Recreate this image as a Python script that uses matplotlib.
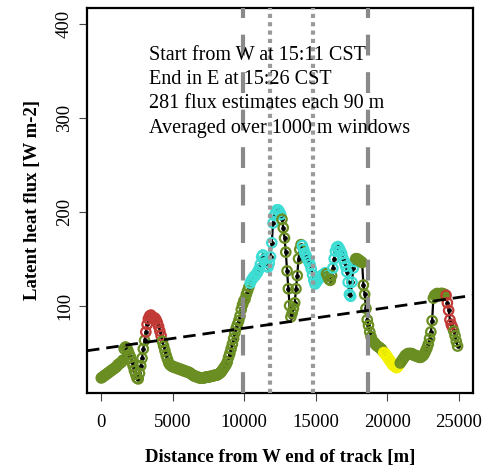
import numpy as np
import matplotlib
matplotlib.use("Agg")
from matplotlib import pyplot as plt

plt.rcParams['font.family'] = ['Liberation Serif', 'DejaVu Serif']

# flux estimates along the track, one every 89 m
spacing = 89
flux = [23, 24, 25, 26, 27, 28, 29, 30, 31, 32,
        33, 34, 35, 37, 38, 39, 40, 42, 54, 56,
        55, 52, 48, 45, 40, 36, 31, 27, 23, 22,
        28, 36, 44, 54, 63, 72, 80, 86, 89, 90,
        88, 86, 87, 85, 82, 78, 73, 68, 62, 57,
        52, 47, 43, 39, 37, 36, 35, 35, 34, 34,
        33, 33, 32, 32, 31, 31, 30, 30, 29, 29,
        28, 27, 26, 25, 25, 24, 24, 23, 23, 23,
        23, 23, 24, 24, 24, 24, 25, 25, 25, 26,
        26, 26, 27, 28, 29, 31, 33, 35, 37, 40,
        45, 49, 54, 59, 65, 71, 76, 80, 84, 89,
        96, 101, 105, 107, 112, 116, 120, 124, 127, 129,
        131, 132, 134, 136, 139, 144, 152, 154, 149, 146,
        142, 141, 145, 152, 167, 188, 196, 199, 202, 202,
        200, 197, 192, 183, 172, 157, 137, 118, 100, 88,
        92, 97, 103, 118, 132, 150, 160, 165, 164, 160,
        156, 153, 150, 147, 144, 139, 133, 127, 123, 125,
        127, 129, 130, 132, 133, 134, 135, 134, 131, 128,
        127, 132, 140, 150, 158, 162, 163, 161, 158, 155,
        150, 146, 142, 136, 125, 112, 110, 125, 140, 147,
        150, 150, 149, 148, 147, 146, 122, 112, 97, 85,
        79, 72, 67, 63, 61, 60, 58, 57, 56, 55,
        54, 52, 50, 49, 47, 45, 43, 41, 39, 37,
        36, 35, 34, 35, 37, 39, 41, 43, 45, 47,
        48, 49, 49, 49, 49, 48, 47, 47, 46, 46,
        45, 45, 46, 47, 49, 52, 55, 59, 65, 72,
        84, 108, 111, 112, 113, 112, 112, 113, 113, 112,
        112, 111, 103, 95, 85, 80, 77, 73, 68, 62,
        57]

# index ranges of the coloured groups (everything else is green)
red_idx = list(range(35, 48)) + list(range(271, 277))
cyan_idx = list(range(117, 142)) + list(range(158, 177)) + list(range(182, 200))
yellow_idx = list(range(222, 235))

trend_x = [-1000, 26000]
trend_y = [52, 111]
dashed_x = [9900, 18650]
dotted_x = [11800, 14800]

notes = ["Start from W at 15:11 CST",
         "End in E at 15:26 CST",
         "281 flux estimates each 90 m",
         "Averaged over 1000 m windows"]

flux = np.array(flux, dtype=float)
dist = np.arange(len(flux)) * spacing

colors = np.array(["#6B8E23"] * len(flux), dtype=object)
colors[red_idx] = "#C13A35"
colors[cyan_idx] = "#3EDDD4"
colors[yellow_idx] = "#F2F200"

fig = plt.figure(figsize=(4.91, 4.69), dpi=100)
ax = fig.add_axes([87/491, 76/469, 386/491, 385/469])

ax.plot(dist, flux, color="black", lw=1.6, marker="o", ms=2.4, zorder=2)
ax.scatter(dist, flux, s=46, facecolors="none", edgecolors=list(colors),
           linewidths=1.6, zorder=3)

for xv in dashed_x:
    ax.axvline(xv, color="#8a8a8a", lw=3, dashes=(5, 4), zorder=4)
for xv in dotted_x:
    ax.axvline(xv, color="#9a9a9a", lw=3, dashes=(1, 1), zorder=4)

ax.plot(trend_x, trend_y, color="black", lw=2, dashes=(4.5, 2.5), zorder=5)

for k, line in enumerate(notes):
    ax.text(0.161, 0.865 - k * 0.063, line, transform=ax.transAxes,
            fontsize=14.5, va="baseline", ha="left", zorder=6)

ax.set_xlim(-1000, 26000)
ax.set_ylim(7, 417)
ax.set_xticks([0, 5000, 10000, 15000, 20000, 25000])
ax.set_yticks([100, 200, 300, 400])
ax.tick_params(labelsize=13.5, length=6, width=0.8, color="#444444")
ax.tick_params(axis="x", pad=9)
ax.tick_params(axis="y", pad=4)
for lab in ax.get_yticklabels():
    lab.set_rotation(90)
    lab.set_va("center")
for sp in ax.spines.values():
    sp.set_linewidth(1.6)

ax.set_xlabel("Distance from W end of track [m]", fontsize=13.5,
              fontweight="bold")
ax.set_ylabel("Latent heat flux [W m-2]", fontsize=13.5, fontweight="bold")
ax.xaxis.set_label_coords(0.5, -0.145)
ax.yaxis.set_label_coords(-0.118, 0.5)

plt.savefig("out.png", dpi=100)
